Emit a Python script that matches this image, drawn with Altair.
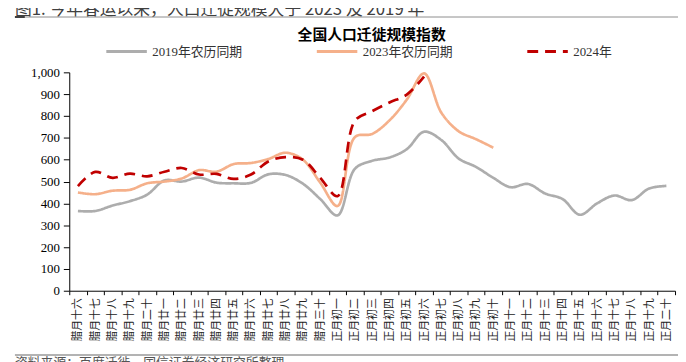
import altair as alt
import pandas as pd

# ---- data -------------------------------------------------------------
days = ['腊月十六', '腊月十七', '腊月十八', '腊月十九', '腊月二十',
        '腊月廿一', '腊月廿二', '腊月廿三', '腊月廿四', '腊月廿五',
        '腊月廿六', '腊月廿七', '腊月廿八', '腊月廿九', '腊月三十',
        '正月初一', '正月初二', '正月初三', '正月初四', '正月初五',
        '正月初六', '正月初七', '正月初八', '正月初九', '正月初十',
        '正月十一', '正月十二', '正月十三', '正月十四', '正月十五',
        '正月十六', '正月十七', '正月十八', '正月十九', '正月二十']

series_names = ['2019年农历同期', '2023年农历同期', '2024年']

v2019 = [365, 365, 390, 410, 440, 505, 500, 518, 495, 492, 494, 533, 530, 490,
         420, 345, 558, 595, 610, 648, 728, 690, 605, 567, 517, 474, 489, 445,
         420, 348, 400, 436, 415, 468, 480]
v2023 = [450, 442, 458, 462, 492, 500, 514, 552, 545, 580, 585, 603, 632, 600,
         495, 388, 703, 718, 780, 875, 995, 815, 730, 694, 655]
v2024 = [479, 544, 517, 536, 524, 545, 562, 532, 535, 512, 532, 592, 612, 600,
         517, 433, 778, 822, 862, 898, 980]

colors = ['#ADADAD', '#F5B08A', '#C00000']
dashes = [[1, 0], [1, 0], [11, 7]]

header_text = ['图1. 今年春运以来，人口迁徙规模大于 2023 及 2019 年']
title_text = ['全国人口迁徙规模指数']
source_text = ['资料来源：百度迁徙，国信证券经济研究所整理']

rows = []
for name, vals in zip(series_names, [v2019, v2023, v2024]):
    for d, v in zip(days, vals):
        rows.append({'day': d, 'series': name, 'value': v})
df = pd.DataFrame(rows)

# ---- chart ------------------------------------------------------------
W, H = 613, 221
serif = 'Liberation Serif, Noto Sans CJK SC'
cjk = 'Noto Sans CJK SC'

legend = alt.Legend(
    orient='none', legendX=36, legendY=-43, direction='horizontal', title=None,
    symbolType='stroke', symbolSize=1681, symbolStrokeWidth=3,
    labelFont=serif, labelFontSize=13, labelColor='#333333',
    columnPadding=68, labelOffset=4, padding=0)

lines = alt.Chart(df).mark_line(interpolate='catmull-rom', strokeWidth=2.7).encode(
    x=alt.X('day:N', sort=days, bandPosition=0.5,
            scale=alt.Scale(type='band', paddingInner=0, paddingOuter=0),
            axis=alt.Axis(title=None, labelAngle=270, tickBand='extent',
                          labelFont=cjk, labelFontSize=11, labelColor='#222222',
                          tickSize=4, tickColor='black', domainColor='black',
                          labelPadding=3, labelOverlap=False)),
    y=alt.Y('value:Q', scale=alt.Scale(domain=[0, 1000], nice=False),
            axis=alt.Axis(title=None, values=list(range(0, 1001, 100)), format=',d',
                          tickSize=6, labelFont='Liberation Serif', labelFontSize=13,
                          labelColor='black', grid=False, domainColor='black',
                          tickColor='black', labelPadding=4)),
    color=alt.Color('series:N', sort=series_names,
                    scale=alt.Scale(domain=series_names, range=colors), legend=legend),
    strokeDash=alt.StrokeDash('series:N', sort=series_names,
                              scale=alt.Scale(domain=series_names, range=dashes),
                              legend=legend),
)

one = pd.DataFrame({'a': [0]})

header = alt.Chart(pd.DataFrame({'t': header_text})).mark_text(
    align='left', baseline='alphabetic', font=cjk, fontSize=17, color='#404040'
).encode(text='t:N', x=alt.value(-55), y=alt.value(-58))

header_rule = alt.Chart(one).mark_rule(color='#8C8C8C', strokeWidth=1).encode(
    x=alt.value(-55), x2=alt.value(620), y=alt.value(-56))
header_rule2 = alt.Chart(one).mark_rule(color='#404040', strokeWidth=2).encode(
    x=alt.value(-55), x2=alt.value(-45), y=alt.value(-56))

title = alt.Chart(pd.DataFrame({'t': title_text})).mark_text(
    align='center', baseline='middle', font=cjk, fontSize=15, fontWeight='bold',
    color='black'
).encode(text='t:N', x=alt.value(306), y=alt.value(-38))

source_rule = alt.Chart(one).mark_rule(color='#9A9A9A', strokeWidth=1.5).encode(
    x=alt.value(-55), x2=alt.value(620), y=alt.value(286))
source = alt.Chart(pd.DataFrame({'t': source_text})).mark_text(
    align='left', baseline='top', font=cjk, fontSize=13, color='#555555'
).encode(text='t:N', x=alt.value(-55), y=alt.value(288))

chart = alt.layer(lines, header, header_rule, header_rule2, title, source_rule, source).properties(
    width=W, height=H,
    padding={'left': 62, 'top': 63, 'right': 3, 'bottom': 70},
    autosize=alt.AutoSizeParams(type='none'),
    background='white',
).configure_view(stroke=None)

chart.save('out.html', embed_options={'renderer': 'svg', 'actions': False})
